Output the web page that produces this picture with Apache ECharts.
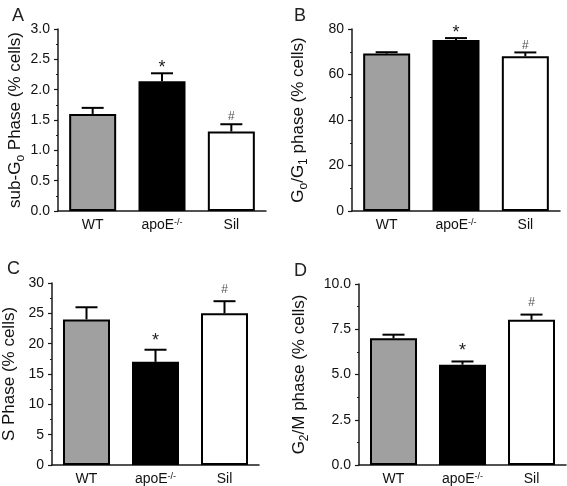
<!DOCTYPE html>
<html>
<head>
<meta charset="utf-8">
<script src="https://cdn.jsdelivr.net/npm/echarts@6/dist/echarts.min.js"></script>
<style>html,body{margin:0;padding:0;background:#fff;}#main{width:567px;height:486px;}</style>
</head>
<body>
<div id="main"></div>
<script>
// ---- data ----
const categories = ['WT', 'apoE-/-', 'Sil'];
const marks = ['', '*', '#'];

const subG0Values = [1.6, 2.14, 1.31];
const subG0Errors = [0.1, 0.13, 0.12];
const subG0Ticks = { max: 3, interval: 0.5, decimals: 1 };

const g0g1Values = [69.2, 75.2, 68.0];
const g0g1Errors = [0.6, 0.8, 1.7];
const g0g1Ticks = { max: 80, interval: 20, decimals: 0 };

const sPhaseValues = [24, 17, 25];
const sPhaseErrors = [2, 2, 2];
const sPhaseTicks = { max: 30, interval: 5, decimals: 0 };

const g2mValues = [7.0, 5.54, 8.02];
const g2mErrors = [0.2, 0.18, 0.29];
const g2mTicks = { max: 10, interval: 2.5, decimals: 1 };

// ---- styles / layout ----
const FONT = 'Liberation Sans, Arial, sans-serif';
const barColors = ['#a0a0a0', '#000000', '#ffffff'];
const panels = [
  { letter: 'A', lx: 7, ly: 2, grid: { left: 58, top: 29, width: 208, height: 182 }, ticks: subG0Ticks,
    values: subG0Values, errors: subG0Errors, name: '{n|sub-G}{s|o}{n| Phase (% cells)}', nameGap: 29, gapStar: 9, gapHash: 8 },
  { letter: 'B', lx: 289, ly: 2, grid: { left: 352, top: 29, width: 208, height: 182 }, ticks: g0g1Ticks,
    values: g0g1Values, errors: g0g1Errors, name: '{n|G}{s|o}{n|/G}{s|1}{n| phase (% cells)}', nameGap: 45, gapStar: 9, gapHash: 7 },
  { letter: 'C', lx: 2, ly: 255, grid: { left: 52, top: 283, width: 207, height: 182 }, ticks: sPhaseTicks,
    values: sPhaseValues, errors: sPhaseErrors, name: '{n|S Phase (% cells)}', nameGap: 34, gapStar: 13, gapHash: 12 },
  { letter: 'D', lx: 289, ly: 257, grid: { left: 359, top: 284, width: 207, height: 181 }, ticks: g2mTicks,
    values: g2mValues, errors: g2mErrors, name: '{n|G}{s|2}{n|/M phase (% cells)}', nameGap: 51, gapStar: 14, gapHash: 12 }
];

const axisColor = '#1a1a1a';
const option = {
  backgroundColor: '#fff',
  animation: false,
  title: [], grid: [], xAxis: [], yAxis: [], series: []
};

panels.forEach((p, i) => {
  option.title.push({ text: p.letter, left: p.lx, top: p.ly,
    textStyle: { fontFamily: FONT, fontSize: 18, fontWeight: 'normal', color: '#222' } });
  option.grid.push(p.grid);
  option.xAxis.push({
    type: 'category', gridIndex: i, data: categories,
    axisLine: { lineStyle: { color: axisColor, width: 1.5 } },
    axisTick: { alignWithLabel: true, length: 4, lineStyle: { color: axisColor, width: 1.2 } },
    axisLabel: { interval: 0, margin: 7, color: '#111', fontFamily: FONT, fontSize: 14,
      formatter: v => v === 'apoE-/-' ? '{n|apoE}{sup|-/-}' : '{n|' + v + '}',
      rich: { n: { fontFamily: FONT, fontSize: 14, lineHeight: 14, color: '#111', verticalAlign: 'bottom' },
              sup: { fontFamily: FONT, fontSize: 9, lineHeight: 9, color: '#111', verticalAlign: 'top' } } }
  });
  option.yAxis.push({
    type: 'value', gridIndex: i, min: 0, max: p.ticks.max, interval: p.ticks.interval,
    name: p.name, nameLocation: 'middle', nameGap: p.nameGap,
    nameTextStyle: { fontFamily: FONT, fontSize: 17, color: '#111',
      rich: { n: { fontFamily: FONT, fontSize: 17, lineHeight: 17, color: '#111', verticalAlign: 'top' },
              s: { fontFamily: FONT, fontSize: 12, lineHeight: 12, color: '#111', verticalAlign: 'top', padding: [8, 0, 0, 0] } } },
    splitLine: { show: false },
    axisLine: { show: true, lineStyle: { color: axisColor, width: 1.5 } },
    axisTick: { show: true, length: 4, lineStyle: { color: axisColor, width: 1.2 } },
    minorTick: { show: true, splitNumber: 2, length: 2, lineStyle: { color: axisColor, width: 1.2 } },
    axisLabel: { margin: 8, color: '#111', fontFamily: FONT, fontSize: 14,
      formatter: v => v.toFixed(p.ticks.decimals) }
  });
  option.series.push({
    type: 'bar', xAxisIndex: i, yAxisIndex: i, barWidth: 47,
    itemStyle: { borderColor: '#000', borderWidth: 2 },
    data: p.values.map((v, j) => ({ value: v, itemStyle: { color: barColors[j] } }))
  });
  option.series.push({
    type: 'custom', xAxisIndex: i, yAxisIndex: i, z: 5,
    data: p.values.map((v, j) => [j, v, p.errors[j]]),
    renderItem: (params, api) => {
      const x = api.value(0), v = api.value(1), e = api.value(2);
      const base = api.coord([x, v]);
      const cap = api.coord([x, v + e]);
      const hw = 11;
      const children = [
        { type: 'line', shape: { x1: base[0], y1: base[1], x2: cap[0], y2: cap[1] }, style: { stroke: '#000', lineWidth: 2 } },
        { type: 'line', shape: { x1: cap[0] - hw, y1: cap[1], x2: cap[0] + hw, y2: cap[1] }, style: { stroke: '#000', lineWidth: 2 } }
      ];
      const m = marks[params.dataIndex];
      if (m === '*') {
        children.push({ type: 'text', style: { text: '*', x: cap[0], y: cap[1] - p.gapStar + 4, align: 'center', verticalAlign: 'middle',
          fontFamily: FONT, fontSize: 18, fill: '#222' } });
      } else if (m === '#') {
        children.push({ type: 'text', style: { text: '#', x: cap[0], y: cap[1] - p.gapHash, align: 'center', verticalAlign: 'middle',
          fontFamily: FONT, fontSize: 12, fill: '#555' } });
      }
      return { type: 'group', children };
    }
  });
});

const chart = echarts.init(document.getElementById('main'), null, { renderer: 'canvas' });
chart.setOption(option);
</script>
</body>
</html>
